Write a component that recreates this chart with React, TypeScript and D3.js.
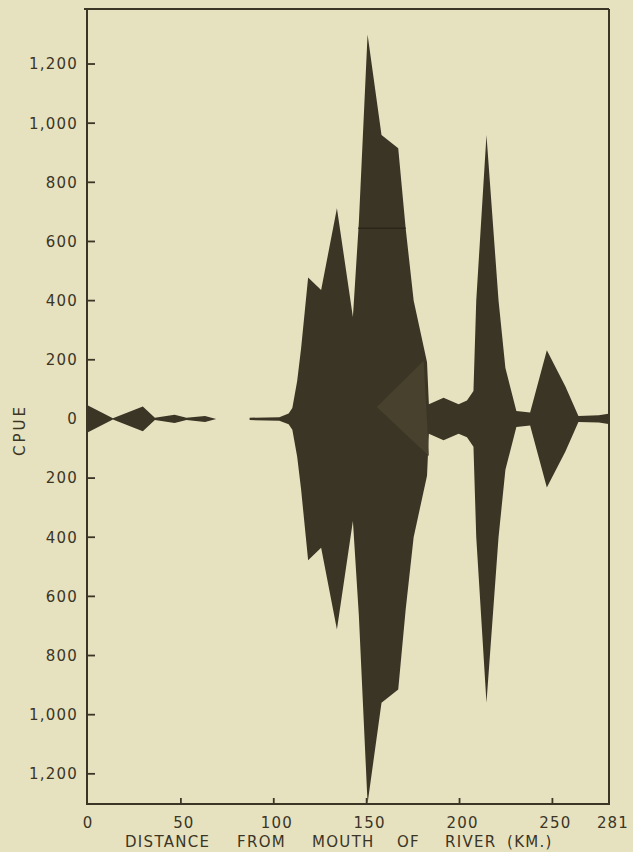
import React from "react";
import * as d3 from "d3";

// Kite diagram: CPUE (half-width, mirrored) vs distance from river mouth (km)
const seg1Km = [0, 13.4, 29.5, 36, 46.6, 53, 63, 69];
const seg1Val = [45, 2, 42, 4, 14, 4, 10, 0];

const seg2Km = [87, 103, 108, 110, 112.6, 114.7, 118.5, 125.5, 134, 142.6, 145.8, 150.5, 158, 167, 171, 175.3, 182.5, 183.5, 191.4, 199.5, 204, 207.5, 209, 214.5, 221, 224.7, 230.6, 238, 247, 257, 264, 275, 281];
const seg2Val = [4, 6, 18, 37, 128, 238, 478, 436, 712, 345, 664, 1300, 960, 915, 645, 400, 192, 50, 72, 50, 62, 94, 400, 960, 400, 172, 27, 22, 232, 110, 10, 12, 18];

// lighter overlapping kite inside the main mass
const overlayKm = [155.5, 180.7, 183.5];
const overlayVal = [40, 197, -125];

const seamValue = 645;
const seamKm = [145.5, 171];

const yTicks = [1200, 1000, 800, 600, 400, 200, 0, -200, -400, -600, -800, -1000, -1200];
const xTicks = [0, 50, 100, 150, 200, 250, 281];
const titleWords = ["DISTANCE", "FROM", "MOUTH", "OF", "RIVER", "(KM.)"];
const titleWordX = [125, 237, 312, 397, 445, 507];

const W = 633, H = 852;
const INK = "#3b3526";
const BG = "#e6e2bf";

export default function App() {
  const x = d3.scaleLinear().domain([0, 281]).range([88, 610]);
  const y = d3.scaleLinear().domain([-1302, 1386]).range([804, 9]);

  const area = d3.area<{ km: number; v: number }>()
    .x(d => x(d.km))
    .y0(d => y(-d.v))
    .y1(d => y(d.v));

  const s1 = seg1Km.map((km, i) => ({ km, v: seg1Val[i] }));
  const s2 = seg2Km.map((km, i) => ({ km, v: seg2Val[i] }));
  const ov = overlayKm.map((km, i) => [x(km), y(overlayVal[i])] as [number, number]);
  const fmt = d3.format(",");
  const font = "'DejaVu Sans', sans-serif";

  return (
    <svg width={W} height={H} style={{ position: "absolute", left: 0, top: 0, display: "block" }}>
      <rect width={W} height={H} fill={BG} />
      <path d={area(s1) || ""} fill={INK} />
      <path d={area(s2) || ""} fill={INK} />
      <path d={d3.line()(ov) + "Z"} fill="#47412e" />
      <line x1={x(seamKm[0])} x2={x(seamKm[1])} y1={y(seamValue)} y2={y(seamValue)} stroke="#2a2619" strokeWidth={1.5} />
      {/* frame */}
      <line x1={84} x2={609} y1={y(1386)} y2={y(1386)} stroke={INK} strokeWidth={2} />
      <line x1={609} x2={609} y1={y(1386)} y2={y(-1302)} stroke={INK} strokeWidth={2} />
      <line x1={x(0) - 1} x2={x(0) - 1} y1={y(1386)} y2={y(-1302)} stroke={INK} strokeWidth={2} />
      <line x1={x(0) - 2} x2={610} y1={y(-1302)} y2={y(-1302)} stroke={INK} strokeWidth={2} />
      {yTicks.map(t => (
        <g key={t}>
          <line x1={x(0)} x2={x(0) + 7} y1={y(t)} y2={y(t)} stroke={INK} strokeWidth={1.8} />
          <text x={x(0) - 10} y={y(t)} dy="0.36em" textAnchor="end" fontFamily={font} fontSize={15} letterSpacing={1.2} fill={INK}>
            {fmt(Math.abs(t))}
          </text>
        </g>
      ))}
      {xTicks.slice(1, -1).map(t => (
        <line key={t} x1={x(t)} x2={x(t)} y1={y(-1302)} y2={y(-1302) - 6} stroke={INK} strokeWidth={1.8} />
      ))}
      {xTicks.map(t => (
        <text key={"l" + t} x={x(t) + (t === 0 ? 0 : 3)} y={828} textAnchor="middle" fontFamily={font} fontSize={15} letterSpacing={1.2} fill={INK}>
          {t}
        </text>
      ))}
      <text transform={`translate(25,430) rotate(-90)`} textAnchor="middle" fontFamily={font} fontSize={15} letterSpacing={3} fill={INK}>
        CPUE
      </text>
      {titleWords.map((w, i) => (
        <text key={w} x={titleWordX[i]} y={847} fontFamily={font} fontSize={15} letterSpacing={1.3} fill={INK}>
          {w}
        </text>
      ))}
    </svg>
  );
}
